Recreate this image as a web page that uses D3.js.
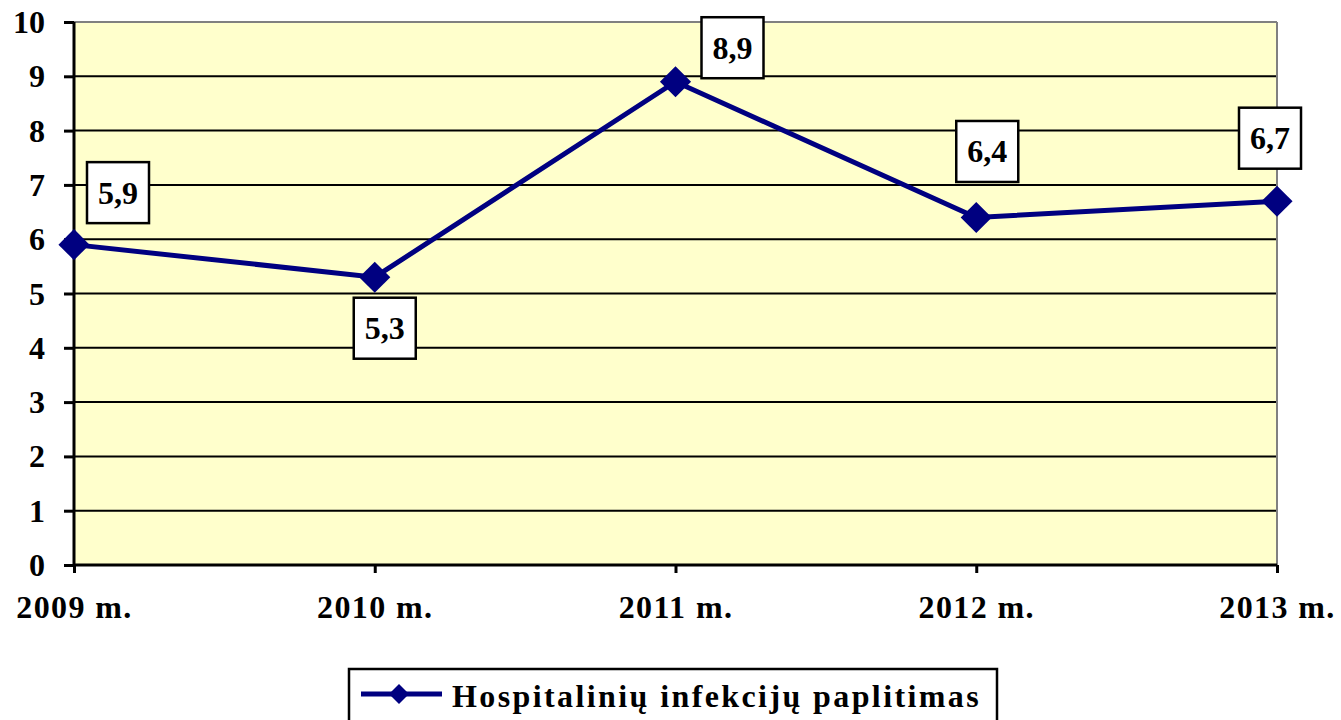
<!DOCTYPE html>
<html>
<head>
<meta charset="utf-8">
<script src="https://cdn.jsdelivr.net/npm/d3@7"></script>
<style>
  body { margin: 0; background: #fff; }
  text { font-family: "Liberation Serif", "Times New Roman", serif; font-weight: bold; }
</style>
</head>
<body>
<div id="chart"></div>
<script>
var years = ["2009 m.", "2010 m.", "2011 m.", "2012 m.", "2013 m."];
var values = [5.9, 5.3, 8.9, 6.4, 6.7];
var valueLabels = ["5,9", "5,3", "8,9", "6,4", "6,7"];
var yTicks = [0, 1, 2, 3, 4, 5, 6, 7, 8, 9, 10];
var seriesName = "Hospitalinių infekcijų paplitimas";

var margin = { top: 22, right: 64, bottom: 155, left: 74 },
    width = 1341 - margin.left - margin.right,
    height = 720 - margin.top - margin.bottom;

var svg = d3.select("#chart")
    .append("svg")
    .attr("width", 1341)
    .attr("height", 720);

var g = svg.append("g")
    .attr("transform", "translate(" + margin.left + "," + margin.top + ")");

var x = d3.scalePoint()
    .domain(years)
    .range([0, width]);

var y = d3.scaleLinear()
    .domain([0, 10])
    .range([height, 0]);

// plot background
g.append("rect")
    .attr("width", width)
    .attr("height", height)
    .attr("fill", "#ffffcc");

// gridlines
g.selectAll(".grid")
    .data(yTicks.slice(1))
    .enter()
    .append("line")
    .attr("x1", 0)
    .attr("x2", width)
    .attr("y1", function(d) { return y(d); })
    .attr("y2", function(d) { return y(d); })
    .attr("stroke", function(d) { return d === 10 ? "#808080" : "#000"; })
    .attr("stroke-width", 2);

// right border
g.append("line")
    .attr("x1", width).attr("x2", width)
    .attr("y1", 0).attr("y2", height)
    .attr("stroke", "#808080")
    .attr("stroke-width", 2);

// y axis
var yAxis = g.append("g")
    .call(d3.axisLeft(y).tickValues(yTicks).tickSize(10).tickPadding(19).tickFormat(d3.format("d")));
yAxis.select(".domain").attr("stroke", "#000").attr("stroke-width", 3).attr("d", "M0," + height + "V0");
yAxis.selectAll(".tick line").attr("stroke", "#000").attr("stroke-width", 3);
yAxis.selectAll("text")
    .attr("font-size", 32)
    .attr("fill", "#000")
    .attr("dy", "0.33em");

// x axis
var xAxis = g.append("g")
    .attr("transform", "translate(0," + height + ")")
    .call(d3.axisBottom(x).tickSize(8).tickPadding(22));
xAxis.select(".domain").attr("stroke", "#000").attr("stroke-width", 3).attr("d", "M0,0H" + width);
xAxis.selectAll(".tick line").attr("stroke", "#000").attr("stroke-width", 3);
xAxis.selectAll("text")
    .attr("font-size", 32)
    .attr("letter-spacing", "1.4px")
    .attr("fill", "#000");

// series line
var line = d3.line()
    .x(function(d, i) { return x(years[i]); })
    .y(function(d) { return y(d); });

g.append("path")
    .datum(values)
    .attr("fill", "none")
    .attr("stroke", "#000080")
    .attr("stroke-width", 5)
    .attr("d", line);

var diamond = d3.symbol().type(d3.symbolSquare).size(484);

g.selectAll(".pt")
    .data(values)
    .enter()
    .append("path")
    .attr("d", diamond)
    .attr("fill", "#000080")
    .attr("transform", function(d, i) {
        return "translate(" + x(years[i]) + "," + y(d) + ") rotate(45)";
    });

// value label boxes (offset of box centre from the point)
var labelOffsets = [[44, -52], [10, 51], [57, -34], [11, -66], [-7, -63]];
var boxW = 62, boxH = 61;

var lab = g.selectAll(".lab")
    .data(values)
    .enter()
    .append("g")
    .attr("transform", function(d, i) {
        return "translate(" + (x(years[i]) + labelOffsets[i][0]) + "," + (y(d) + labelOffsets[i][1]) + ")";
    });

lab.append("rect")
    .attr("x", -boxW / 2)
    .attr("y", -boxH / 2)
    .attr("width", boxW)
    .attr("height", boxH)
    .attr("fill", "#fff")
    .attr("stroke", "#000")
    .attr("stroke-width", 2.5);

lab.append("text")
    .attr("text-anchor", "middle")
    .attr("dy", "0.34em")
    .attr("font-size", 32)
    .text(function(d, i) { return valueLabels[i]; });

// legend
var legend = svg.append("g")
    .attr("transform", "translate(349,669)");

legend.append("rect")
    .attr("width", 648)
    .attr("height", 60)
    .attr("fill", "#fff")
    .attr("stroke", "#000")
    .attr("stroke-width", 2.5);

legend.append("line")
    .attr("x1", 12).attr("x2", 93)
    .attr("y1", 25).attr("y2", 25)
    .attr("stroke", "#000080")
    .attr("stroke-width", 5);

legend.append("path")
    .attr("d", d3.symbol().type(d3.symbolSquare).size(200))
    .attr("fill", "#000080")
    .attr("transform", "translate(50,25) rotate(45)");

legend.append("text")
    .attr("x", 103)
    .attr("y", 38)
    .attr("font-size", 32)
    .attr("letter-spacing", "2.4px")
    .text(seriesName);
</script>
</body>
</html>
